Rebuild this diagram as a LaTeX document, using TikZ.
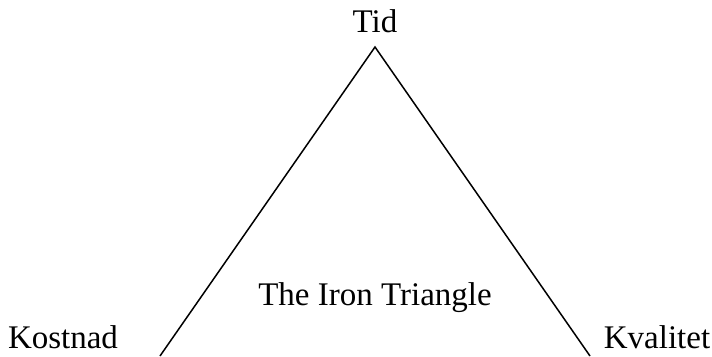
\documentclass[tikz,border=0pt]{standalone}
\usepackage{fontspec}
\setmainfont{Liberation Serif}
\usepackage{tikz}
\usetikzlibrary{positioning,calc}

\begin{document}
\begin{tikzpicture}[
    x=1pt,y=-1pt,
    hoek/.style  = {font=\fontsize{33}{38}\selectfont, inner sep=0pt},
    titel/.style = {font=\fontsize{33}{38}\selectfont, inner sep=0pt},
    sida/.style  = {black, line width=1.5pt},
  ]

  \useasboundingbox (0,0) rectangle (712,356);

  \coordinate (topp)  at (375,47);
  \coordinate (vbas)  at (160,356);
  \coordinate (hbas)  at (590,356);

  \node[hoek]  (tid) at (375,21)  {Tid};
  \node[hoek]  (kos) at (63,337)  {Kostnad};
  \node[hoek]  (kva) at (657,337) {Kvalitet};
  \node[titel] (tri) at (375,298) {The Iron Triangle};

  \draw[sida] (vbas) -- (topp) -- (hbas);

\end{tikzpicture}
\end{document}
